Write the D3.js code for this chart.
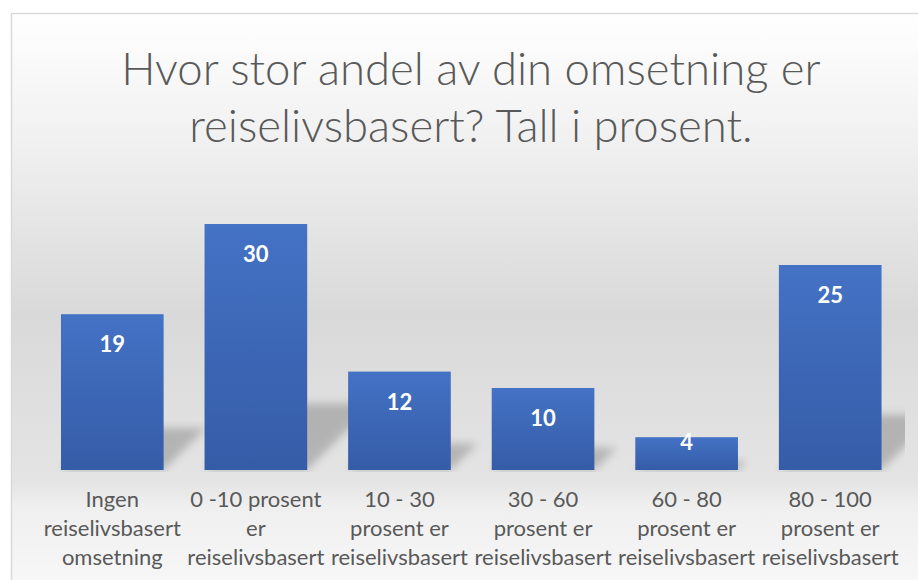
<!DOCTYPE html>
<html>
<head>
<meta charset="utf-8">
<script src="https://cdn.jsdelivr.net/npm/d3@7"></script>
<style>
  body { margin: 0; background: #fff; }
  svg { display: block; }
</style>
</head>
<body>
<script>
var titleLines = ["Hvor stor andel av din omsetning er", "reiselivsbasert? Tall i prosent."];

var categories = [
  "Ingen reiselivsbasert omsetning",
  "0 -10 prosent er reiselivsbasert",
  "10 - 30 prosent er reiselivsbasert",
  "30 - 60 prosent er reiselivsbasert",
  "60 - 80 prosent er reiselivsbasert",
  "80 - 100 prosent er reiselivsbasert"
];

var tickLabels = [
  ["Ingen", "reiselivsbasert", "omsetning"],
  ["0 -10 prosent", "er", "reiselivsbasert"],
  ["10 - 30", "prosent er", "reiselivsbasert"],
  ["30 - 60", "prosent er", "reiselivsbasert"],
  ["60 - 80", "prosent er", "reiselivsbasert"],
  ["80 - 100", "prosent er", "reiselivsbasert"]
];

var values = [19, 30, 12, 10, 4, 25];

var width = 918, height = 580;
var baseY = 470;

var svg = d3.select("body").append("svg")
  .attr("width", width)
  .attr("height", height);

var defs = svg.append("defs");

// chart area background
var bg = defs.append("linearGradient")
  .attr("id", "bgGrad")
  .attr("x1", 0).attr("y1", 0).attr("x2", 0).attr("y2", 1);
bg.append("stop").attr("offset", "0").attr("stop-color", "#ffffff");
bg.append("stop").attr("offset", "0.22").attr("stop-color", "#f0f0f0");
bg.append("stop").attr("offset", "0.5").attr("stop-color", "#d9d9d9");
bg.append("stop").attr("offset", "0.78").attr("stop-color", "#e4e4e4");
bg.append("stop").attr("offset", "0.82").attr("stop-color", "#efefef");
bg.append("stop").attr("offset", "1").attr("stop-color", "#fafafa");

var barGrad = defs.append("linearGradient")
  .attr("id", "barGrad")
  .attr("x1", 0).attr("y1", 0).attr("x2", 0).attr("y2", 1);
barGrad.append("stop").attr("offset", "0").attr("stop-color", "#4472c5");
barGrad.append("stop").attr("offset", "1").attr("stop-color", "#355ca7");

defs.append("filter")
  .attr("id", "blur")
  .attr("x", "-50%").attr("y", "-50%").attr("width", "200%").attr("height", "200%")
  .append("feGaussianBlur")
  .attr("stdDeviation", 4);

defs.append("clipPath")
  .attr("id", "plotClip")
  .append("rect")
  .attr("x", 12).attr("y", 180).attr("width", 893).attr("height", baseY - 178);

svg.append("rect")
  .attr("x", 11.5)
  .attr("y", 13.5)
  .attr("width", 940)
  .attr("height", 600)
  .style("fill", "url(#bgGrad)")
  .style("stroke", "#d9d9d9")
  .style("stroke-width", 1.5);

// title
svg.append("text")
  .attr("text-anchor", "middle")
  .style("font-family", "Lato")
  .style("font-weight", 300)
  .style("font-size", "45.5px")
  .style("fill", "#595959")
  .selectAll("tspan")
  .data(titleLines)
  .enter()
  .append("tspan")
  .attr("x", 471)
  .attr("y", function(d, i) { return 85 + i * 57; })
  .text(function(d) { return d; });

var x = d3.scaleBand()
  .domain(categories)
  .range([40.5, 902])
  .paddingInner(0.285)
  .paddingOuter(0.1425);

var y = d3.scaleLinear()
  .domain([0, 30])
  .range([baseY, 224]);

// perspective shadows
svg.append("g")
  .attr("clip-path", "url(#plotClip)")
  .selectAll("polygon")
  .data(values)
  .enter()
  .append("polygon")
  .attr("points", function(d, i) {
    var x0 = x(categories[i]), x1 = x0 + x.bandwidth();
    var sh = (baseY - y(d)) * 0.27;
    return [[x0, baseY], [x1, baseY], [x1 + sh, baseY - sh], [x0 + sh, baseY - sh]].join(" ");
  })
  .style("fill", "#000")
  .style("opacity", 0.2)
  .attr("filter", "url(#blur)");

svg.selectAll(".bar")
  .data(values)
  .enter()
  .append("rect")
  .attr("class", "bar")
  .attr("x", function(d, i) { return x(categories[i]); })
  .attr("y", function(d) { return y(d); })
  .attr("width", x.bandwidth())
  .attr("height", function(d) { return baseY - y(d); })
  .style("fill", "url(#barGrad)");

svg.selectAll(".val")
  .data(values)
  .enter()
  .append("text")
  .attr("class", "val")
  .attr("text-anchor", "middle")
  .attr("x", function(d, i) { return x(categories[i]) + x.bandwidth() / 2; })
  .attr("y", function(d) {
    var h = baseY - y(d);
    return h > 60 ? y(d) + 38 : y(d) + 13;
  })
  .style("font-family", "Lato")
  .style("font-weight", 700)
  .style("font-size", "22px")
  .style("fill", "#ffffff")
  .text(function(d) { return d; });

// category labels
var ticks = svg.selectAll(".tick")
  .data(tickLabels)
  .enter()
  .append("text")
  .attr("class", "tick")
  .attr("text-anchor", "middle")
  .style("font-family", "Lato")
  .style("font-size", "22px")
  .style("fill", "#595959");

ticks.selectAll("tspan")
  .data(function(d, i) { return d.map(function(t) { return { t: t, i: i }; }); })
  .enter()
  .append("tspan")
  .attr("x", function(d) { return x(categories[d.i]) + x.bandwidth() / 2; })
  .attr("y", function(d, j) { return 507 + j * 29; })
  .text(function(d) { return d.t; });
</script>
</body>
</html>
